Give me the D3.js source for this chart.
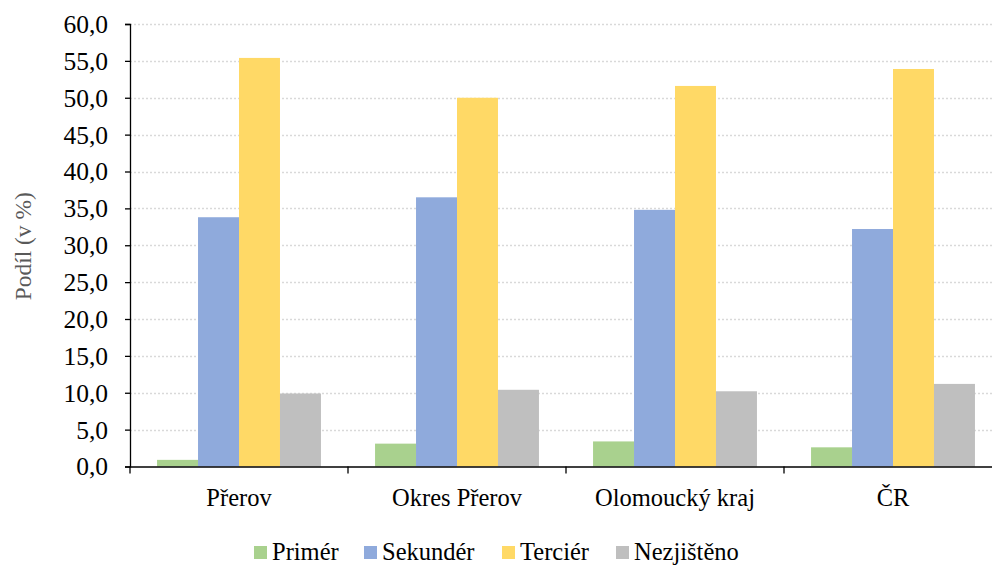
<!DOCTYPE html>
<html>
<head>
<meta charset="utf-8">
<script src="https://cdn.jsdelivr.net/npm/d3@7/dist/d3.min.js"></script>
<style>
  html, body { margin: 0; padding: 0; background: #fff; }
  svg { display: block; }
  svg text { font-family: "Liberation Serif", "Times New Roman", serif; }
</style>
</head>
<body>
<svg id="chart" width="992" height="565"></svg>
<script>
// Sector shares of the employed population by area (in %)
const categories = ["Přerov", "Okres Přerov", "Olomoucký kraj", "ČR"];
const seriesNames = ["Primér", "Sekundér", "Terciér", "Nezjištěno"];
const primer     = [0.9, 3.1, 3.4, 2.6];
const sekunder   = [33.8, 36.5, 34.8, 32.2];
const tercier    = [55.4, 50.0, 51.6, 53.9];
const nezjisteno = [9.9, 10.4, 10.2, 11.2];
const yTicks = [0, 5, 10, 15, 20, 25, 30, 35, 40, 45, 50, 55, 60];
const colors = ["#A9D18E", "#8FAADC", "#FFD966", "#BFBFBF"];

const seriesValues = [primer, sekunder, tercier, nezjisteno];

const svg = d3.select("#chart");
const margin = { left: 130, right: -10, top: 24, bottom: 98.5 };
const W = 992, H = 565;
const plotW = W - margin.left - margin.right;
const plotH = H - margin.top - margin.bottom;

const x0 = d3.scaleBand().domain(categories).range([0, plotW]).paddingInner(0).paddingOuter(0);
const x1 = d3.scaleBand().domain(seriesNames).range([0, x0.bandwidth()]).paddingInner(0).paddingOuter(0.66);
const y = d3.scaleLinear().domain([0, 60]).range([plotH, 0]);

const g = svg.append("g").attr("transform", `translate(${margin.left},${margin.top})`);

// dotted gridlines
g.append("g").selectAll("line").data(yTicks.filter(d => d > 0)).join("line")
  .attr("x1", 0).attr("x2", plotW)
  .attr("y1", d => Math.round(y(d)) + 0.5).attr("y2", d => Math.round(y(d)) + 0.5)
  .attr("stroke", "#D9D9D9").attr("stroke-width", 1.3).attr("stroke-dasharray", "2,2");

// bars
const groups = g.append("g").selectAll("g").data(categories).join("g")
  .attr("transform", d => `translate(${x0(d)},0)`);
groups.selectAll("rect")
  .data((c, ci) => seriesNames.map((s, si) => ({ s, si, v: seriesValues[si][ci] })))
  .join("rect")
  .attr("x", d => x1(d.s))
  .attr("width", x1.bandwidth())
  .attr("y", d => y(d.v))
  .attr("height", d => y(0) - y(d.v))
  .attr("fill", d => colors[d.si]);

// y axis
const yAxis = d3.axisLeft(y).tickValues(yTicks).tickSize(5).tickPadding(17)
  .tickFormat(d => d3.format(".1f")(d).replace(".", ","));
const ya = g.append("g").call(yAxis);
ya.attr("font-family", null).attr("font-size", null);
ya.select(".domain").attr("stroke", "#000").attr("stroke-width", 1.3);
ya.selectAll(".tick line").attr("stroke", "#000").attr("stroke-width", 1.3);
ya.selectAll(".tick text").style("font-size", "25.5px").attr("fill", "#000").attr("dy", "0.33em");

// x axis
const xAxis = d3.axisBottom(x0).tickSize(0).tickPadding(0);
const xa = g.append("g").attr("transform", `translate(0,${plotH})`).call(xAxis);
xa.attr("font-family", null).attr("font-size", null);
xa.select(".domain").attr("stroke", "#000").attr("stroke-width", 1.3);
xa.selectAll(".tick text").style("font-size", "24.5px").attr("fill", "#000")
  .attr("y", 39.5).attr("dy", null);
// category boundary ticks
xa.append("g").selectAll("line").data(categories).join("line")
  .attr("x1", d => x0(d)).attr("x2", d => x0(d))
  .attr("y1", 0).attr("y2", 7)
  .attr("stroke", "#000").attr("stroke-width", 1.3);

// y axis title
svg.append("text")
  .attr("transform", `translate(31,${margin.top + plotH / 2 + 1}) rotate(-90)`)
  .attr("text-anchor", "middle")
  .style("font-size", "23.4px")
  .attr("fill", "#595959")
  .text("Podíl (v %)");

// legend
const legendX = [254, 364, 502, 616];
const legend = svg.append("g").selectAll("g").data(seriesNames).join("g")
  .attr("transform", (d, i) => `translate(${legendX[i]},546)`);
legend.append("rect").attr("width", 13).attr("height", 13).attr("fill", (d, i) => colors[i]);
legend.append("text").attr("x", 18).attr("y", 14).style("font-size", "24.5px").attr("fill", "#000").text(d => d);
</script>
</body>
</html>
